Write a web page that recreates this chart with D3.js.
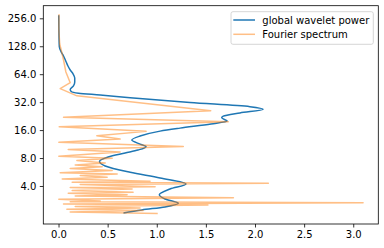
<!DOCTYPE html>
<html>
<head>
<meta charset="utf-8">
<script src="https://cdn.jsdelivr.net/npm/d3@7"></script>
<style>
    body { margin: 0; background: #fff; }
    text { font-family: "DejaVu Sans", sans-serif; }
</style>
</head>
<body>
<svg id="chart" width="384" height="248"></svg>
<script>
const seriesNames = ["global wavelet power", "Fourier spectrum"]

const waveletPeriod = [275.7, 216.8, 158.3, 126.6, 111.0, 100.5, 86.6, 78.4, 71.0, 64.3, 58.2, 52.7,
    47.8, 43.8, 41.7, 39.9, 38.2, 35.7, 31.7, 28.6, 26.8, 24.5, 22.6, 21.7, 20.0, 18.6, 16.8, 15.6,
    13.8, 12.5, 11.3, 10.6, 9.77, 9.07, 8.21, 7.38, 6.57, 5.62, 4.88, 4.20, 3.71, 3.22, 2.90, 2.60,
    2.38, 2.21, 2.05]
const waveletPower = [0.002, 0.003, 0.005, 0.008, 0.027, 0.051, 0.078, 0.096, 0.119, 0.149, 0.165, 0.165,
    0.152, 0.119, 0.129, 0.203, 0.424, 0.729, 1.338, 1.948, 2.083, 1.847, 1.677, 1.661, 1.717, 1.552, 1.237, 1.034,
    0.830, 0.746, 0.830, 0.891, 0.810, 0.678, 0.505, 0.417, 0.475, 0.729, 1.034, 1.298, 1.135, 1.026, 1.084, 1.220,
    1.084, 0.848, 0.661]

const fourierPeriod = [282.7, 191.5, 135.4, 108.2, 91.0, 67.6, 51.8, 44.7, 37.4, 25.9, 22.0, 19.7,
    17.4, 15.5, 13.9, 12.8, 11.8, 10.66, 9.89, 9.29, 8.35, 7.95, 7.53, 7.08, 6.73, 6.46, 6.17, 5.88,
    5.56, 5.39, 5.19, 4.96, 4.76, 4.49, 4.39, 4.28, 4.15, 3.93, 3.85, 3.71, 3.58, 3.42, 3.35, 3.22,
    3.12, 2.99, 2.88, 2.76, 2.70, 2.64, 2.56, 2.50, 2.40, 2.32, 2.25, 2.18, 2.10, 2.02]
const fourierPower = [0.005, 0.003, 0.012, 0.035, 0.051, 0.075, 0.119, 0.017, 0.187, 1.549, 0.051, 1.728,
    0.007, 0.891, 0.390, 0.627, 0.004, 1.270, 0.099, 0.627, 0.003, 0.546, 0.187, 0.475, 0.170, 0.444, 0.119, 0.546,
    0.017, 0.597, 0.221, 0.495, 0.038, 0.932, 0.139, 2.136, 0.221, 0.983, 0.119, 0.749, 0.139, 0.759, 0.099, 0.698,
    0.170, 1.780, 0.003, 0.424, 0.119, 3.100, 0.051, 1.521, 0.170, 0.830, 0.085, 0.861, 0.119, 1.010]

const xTicks = [0, 0.5, 1, 1.5, 2, 2.5, 3]
const yTicks = [4, 8, 16, 32, 64, 128, 256]

const colors = ["#1f77b4", "#ff7f0e"]

const margin = {top: 5.7, right: 5.7, bottom: 24, left: 43.3}
const width = 384 - margin.left - margin.right
const height = 248 - margin.top - margin.bottom

const svg = d3.select("#chart")

const x = d3.scaleLinear().domain([-0.155, 3.255]).range([0, width])
const y = d3.scaleLog().base(2).domain([1.558, 350]).range([height, 0])

const plot = svg.append("g")
    .attr("transform", `translate(${margin.left},${margin.top})`)

const waveletData = waveletPeriod.map((p, i) => [waveletPower[i], p])
const fourierData = fourierPeriod.map((p, i) => [fourierPower[i], p])

plot.append("path")
    .datum(waveletData)
    .attr("fill", "none")
    .attr("stroke", colors[0])
    .attr("stroke-width", 1.5)
    .attr("d", d3.line()
        .x(d => x(d[0]))
        .y(d => y(d[1]))
        .curve(d3.curveMonotoneY))

plot.append("path")
    .datum(fourierData)
    .attr("fill", "none")
    .attr("stroke", colors[1])
    .attr("stroke-opacity", 0.5)
    .attr("stroke-width", 1.5)
    .attr("stroke-linejoin", "round")
    .attr("d", d3.line()
        .x(d => x(d[0]))
        .y(d => y(d[1])))

// axes
const xAxis = plot.append("g")
    .attr("transform", `translate(0,${height})`)
    .call(d3.axisBottom(x).tickValues(xTicks).tickFormat(d3.format(".1f")).tickSize(3.5).tickPadding(3.5))
const yAxis = plot.append("g")
    .call(d3.axisLeft(y).tickValues(yTicks).tickFormat(d3.format(".1f")).tickSize(3.5).tickPadding(3.5))

for (let axis of [xAxis, yAxis]) {
    axis.select(".domain").remove()
    axis.selectAll(".tick line").attr("stroke", "#000").attr("stroke-width", 0.8)
    axis.selectAll(".tick text")
        .attr("fill", "#000")
        .attr("font-size", "10px")
        .attr("font-family", "DejaVu Sans, sans-serif")
}

plot.append("rect")
    .attr("x", 0)
    .attr("y", 0)
    .attr("width", width)
    .attr("height", height)
    .attr("fill", "none")
    .attr("stroke", "#000")
    .attr("stroke-width", 0.8)

// legend
const legend = svg.append("g")
    .attr("transform", "translate(231,11.7)")

legend.append("rect")
    .attr("width", 142.3)
    .attr("height", 32.6)
    .attr("rx", 2)
    .attr("fill", "#fff")
    .attr("fill-opacity", 0.8)
    .attr("stroke", "#cccccc")
    .attr("stroke-width", 0.8)

const legendItem = legend.selectAll(".item")
    .data(seriesNames)
    .enter()
    .append("g")
    .attr("transform", (d, i) => `translate(0,${8.3 + i * 14.3})`)

legendItem.append("line")
    .attr("x1", 2.3)
    .attr("x2", 24)
    .attr("stroke", (d, i) => colors[i])
    .attr("stroke-opacity", (d, i) => i === 1 ? 0.5 : 1)
    .attr("stroke-width", 1.5)

legendItem.append("text")
    .text(d => d)
    .attr("x", 31.3)
    .attr("dy", "0.35em")
    .attr("font-size", "10px")
    .attr("fill", "#000")
</script>
</body>
</html>
